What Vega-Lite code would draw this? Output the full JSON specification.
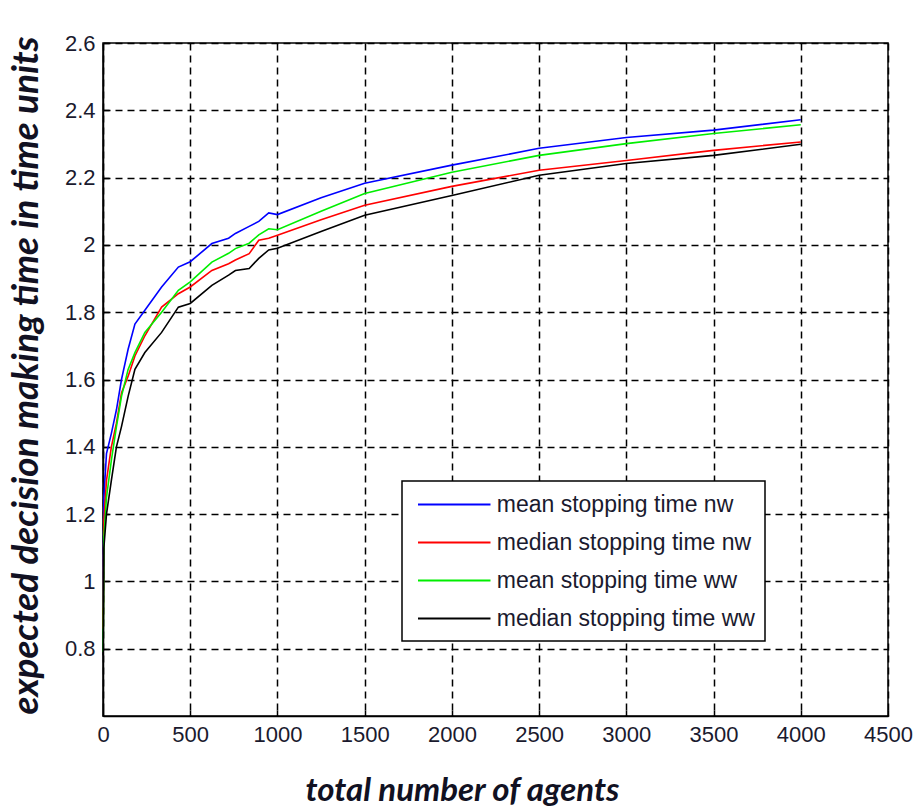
{
  "$schema": "https://vega.github.io/schema/vega-lite/v6.json",
  "width": 785,
  "height": 673,
  "autosize": "none",
  "padding": {"left": 103, "top": 43, "right": 26, "bottom": 91},
  "background": "white",
  "config": {
    "view": {"stroke": "black", "strokeWidth": 1.5},
    "font": "Liberation Sans",
    "legend": {"strokeWidth": 1.5}
  },
  "datasets": {
    "curves": [
      {"n": 1, "nw_mean": 0.92, "nw_median": 0.86, "ww_mean": 0.79, "ww_median": 0.78},
      {"n": 5, "nw_mean": 1.25, "nw_median": 1.18, "ww_mean": 1.13, "ww_median": 1.1},
      {"n": 20, "nw_mean": 1.38, "nw_median": 1.3, "ww_mean": 1.25, "ww_median": 1.2},
      {"n": 48, "nw_mean": 1.44, "nw_median": 1.4, "ww_mean": 1.36, "ww_median": 1.3},
      {"n": 77, "nw_mean": 1.51, "nw_median": 1.47, "ww_mean": 1.46, "ww_median": 1.4},
      {"n": 106, "nw_mean": 1.6, "nw_median": 1.56, "ww_mean": 1.55, "ww_median": 1.46},
      {"n": 144, "nw_mean": 1.69, "nw_median": 1.61, "ww_mean": 1.63, "ww_median": 1.55},
      {"n": 183, "nw_mean": 1.765, "nw_median": 1.67, "ww_mean": 1.68, "ww_median": 1.63},
      {"n": 240, "nw_mean": 1.806, "nw_median": 1.73, "ww_mean": 1.74, "ww_median": 1.68},
      {"n": 336, "nw_mean": 1.875, "nw_median": 1.815, "ww_mean": 1.8, "ww_median": 1.74},
      {"n": 432, "nw_mean": 1.934, "nw_median": 1.855, "ww_mean": 1.865, "ww_median": 1.815},
      {"n": 500, "nw_mean": 1.95, "nw_median": 1.875, "ww_mean": 1.89, "ww_median": 1.826},
      {"n": 624, "nw_mean": 2.004, "nw_median": 1.924, "ww_mean": 1.949, "ww_median": 1.88},
      {"n": 720, "nw_mean": 2.02, "nw_median": 1.944, "ww_mean": 1.975, "ww_median": 1.91},
      {"n": 759, "nw_mean": 2.034, "nw_median": 1.955, "ww_mean": 1.989, "ww_median": 1.924},
      {"n": 838, "nw_mean": 2.055, "nw_median": 1.974, "ww_mean": 2.005, "ww_median": 1.93},
      {"n": 893, "nw_mean": 2.07, "nw_median": 2.014, "ww_mean": 2.03, "ww_median": 1.96},
      {"n": 950, "nw_mean": 2.095, "nw_median": 2.02, "ww_mean": 2.048, "ww_median": 1.985},
      {"n": 1000, "nw_mean": 2.09, "nw_median": 2.029, "ww_mean": 2.045, "ww_median": 1.99},
      {"n": 1250, "nw_mean": 2.14, "nw_median": 2.075, "ww_mean": 2.1, "ww_median": 2.04},
      {"n": 1500, "nw_mean": 2.183, "nw_median": 2.118, "ww_mean": 2.153, "ww_median": 2.088},
      {"n": 2000, "nw_mean": 2.237, "nw_median": 2.174, "ww_mean": 2.216, "ww_median": 2.147},
      {"n": 2500, "nw_mean": 2.287, "nw_median": 2.222, "ww_mean": 2.266, "ww_median": 2.207},
      {"n": 3000, "nw_mean": 2.319, "nw_median": 2.251, "ww_mean": 2.301, "ww_median": 2.242},
      {"n": 3500, "nw_mean": 2.341, "nw_median": 2.281, "ww_mean": 2.331, "ww_median": 2.266},
      {"n": 4000, "nw_mean": 2.372, "nw_median": 2.306, "ww_mean": 2.357, "ww_median": 2.299}
    ]
  },
  "data": {"name": "curves"},
  "transform": [
    {"fold": ["nw_mean", "nw_median", "ww_mean", "ww_median"], "as": ["key", "value"]},
    {"lookup": "key", "from": {"data": {"values": [
      {"key": "nw_mean", "series": "mean stopping time nw"},
      {"key": "nw_median", "series": "median stopping time nw"},
      {"key": "ww_mean", "series": "mean stopping time ww"},
      {"key": "ww_median", "series": "median stopping time ww"}
    ]}, "key": "key", "fields": ["series"]}}
  ],
  "mark": {"type": "line", "strokeWidth": 1.6, "interpolate": "linear"},
  "encoding": {
    "x": {
      "field": "n", "type": "quantitative",
      "scale": {"domain": [0, 4500], "nice": false},
      "axis": {
        "values": [0, 500, 1000, 1500, 2000, 2500, 3000, 3500, 4000, 4500],
        "format": "d",
        "labelFlush": false,
        "title": "total number of agents",
        "titleFont": "Lato", "titleFontSize": 33, "titleFontWeight": "bold", "titleFontStyle": "italic",
        "titleColor": "#111122",
        "titleX": 359, "titleY": 84, "titleAlign": "center", "titleBaseline": "alphabetic",
        "labelFontSize": 22, "labelColor": "#1a1a2e", "labelPadding": 14,
        "grid": true, "gridColor": "black", "gridDash": [7, 5], "gridWidth": 1.5, "gridOpacity": 1,
        "domainColor": "black", "domainWidth": 1.5,
        "ticks": true, "tickSize": -6, "tickColor": "black", "tickWidth": 1.5
      }
    },
    "y": {
      "field": "value", "type": "quantitative",
      "scale": {"domain": [0.6, 2.6], "nice": false},
      "axis": {
        "values": [0.8, 1, 1.2, 1.4, 1.6, 1.8, 2, 2.2, 2.4, 2.6],
        "format": "~g",
        "labelFlush": false,
        "title": "expected decision making time in time units",
        "titleFont": "Lato", "titleFontSize": 37, "titleFontWeight": "bold", "titleFontStyle": "italic",
        "titleColor": "#111122",
        "titleX": -66, "titleY": 332, "titleAlign": "center", "titleBaseline": "alphabetic", "titleAngle": -90,
        "labelFontSize": 22, "labelColor": "#1a1a2e", "labelPadding": 14,
        "grid": true, "gridColor": "black", "gridDash": [7, 5], "gridWidth": 1.5, "gridOpacity": 1,
        "domainColor": "black", "domainWidth": 1.5,
        "ticks": true, "tickSize": -6, "tickColor": "black", "tickWidth": 1.5
      }
    },
    "color": {
      "field": "series", "type": "nominal",
      "scale": {
        "domain": ["mean stopping time nw", "median stopping time nw", "mean stopping time ww", "median stopping time ww"],
        "range": ["#0000ff", "#ff0000", "#00ee00", "#000000"]
      },
      "legend": {
        "orient": "none", "legendX": 299, "legendY": 438,
        "title": null,
        "direction": "vertical",
        "symbolType": "M-2.9,0H2.9", "symbolSize": 625, "symbolStrokeWidth": 2,
        "symbolOffset": 28.75,
        "labelFontSize": 23, "labelColor": "#1a1a2e", "labelOffset": 29, "labelLimit": 400,
        "rowPadding": 12,
        "padding": 10,
        "strokeColor": "black", "fillColor": "white"
      }
    },
    "order": {"field": "n", "type": "quantitative"}
  }
}
